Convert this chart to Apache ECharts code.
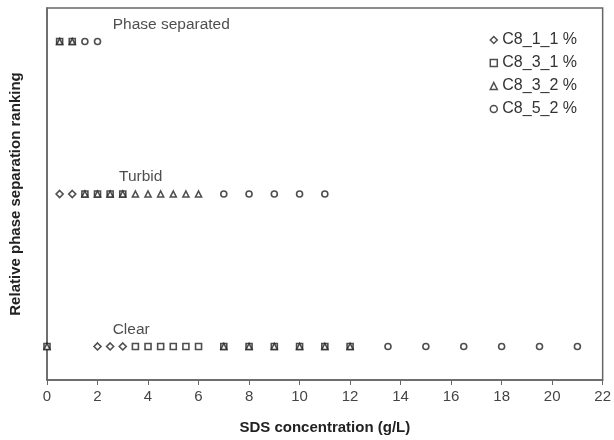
<!DOCTYPE html>
<html>
<head>
<meta charset="utf-8">
<script src="https://cdn.jsdelivr.net/npm/echarts@6/dist/echarts.min.js"></script>
<style>
  html, body { margin: 0; padding: 0; background: #fff; }
  #chart { width: 614px; height: 440px; }
</style>
</head>
<body>
<div id="chart"></div>
<script>
// Ranking levels on the vertical axis
const rankLabels = ['Clear', 'Turbid', 'Phase separated'];
const rankValues = [1, 2, 3];

// x tick labels (SDS concentration, g/L)
const xTicks = [0, 2, 4, 6, 8, 10, 12, 14, 16, 18, 20, 22];

// C8_1_1 %
const c811Sds = [0.5, 1.0, 2.0, 2.5, 3.0];
const c811Rank = [2, 2, 1, 1, 1];

// C8_3_1 %
const c831Sds = [0.5, 1.0, 1.5, 2.0, 2.5, 3.0, 0, 3.5, 4.0, 4.5, 5.0, 5.5, 6.0, 7, 8, 9, 10, 11, 12];
const c831Rank = [3, 3, 2, 2, 2, 2, 1, 1, 1, 1, 1, 1, 1, 1, 1, 1, 1, 1, 1];

// C8_3_2 %
const c832Sds = [0.5, 1.0, 1.5, 2.0, 2.5, 3.0, 3.5, 4.0, 4.5, 5.0, 5.5, 6.0, 0, 7, 8, 9, 10, 11, 12];
const c832Rank = [3, 3, 2, 2, 2, 2, 2, 2, 2, 2, 2, 2, 1, 1, 1, 1, 1, 1, 1];

// C8_5_2 %
const c852Sds = [1.5, 2.0, 7, 8, 9, 10, 11, 13.5, 15, 16.5, 18, 19.5, 21];
const c852Rank = [3, 3, 2, 2, 2, 2, 2, 1, 1, 1, 1, 1, 1];

const seriesNames = ['C8_1_1 %', 'C8_3_1 %', 'C8_3_2 %', 'C8_5_2 %'];

const ink = '#222';
const font = 'Liberation Sans, Arial, sans-serif';

function pairs(xs, ys) { return xs.map((x, i) => [x, ys[i]]); }

function scatter(name, xs, ys, symbol, size) {
  return {
    name: name,
    type: 'scatter',
    symbol: symbol,
    symbolSize: size,
    data: pairs(xs, ys),
    itemStyle: { color: '#fff', borderColor: ink, borderWidth: 1.6 },
    emphasis: { disabled: true },
    z: 3
  };
}

const chart = echarts.init(document.getElementById('chart'), null, { renderer: 'canvas' });

chart.setOption({
  animation: false,
  backgroundColor: '#fff',
  grid: {
    left: 44, right: 11, top: 8, bottom: 59,
    show: true, borderColor: '#666', borderWidth: 1.5, backgroundColor: 'transparent'
  },
  legend: {
    orient: 'vertical',
    right: 32, top: 27,
    itemWidth: 7, itemHeight: 7, itemGap: 7,
    data: seriesNames.map((n, i) => ({
      name: n,
      icon: ['diamond', 'rect', 'triangle', 'circle'][i],
      itemStyle: { color: '#fff', borderColor: ink, borderWidth: 1.5 }
    })),
    textStyle: { fontFamily: font, fontSize: 16, color: '#333', padding: [0, 0, 0, 0] }
  },
  xAxis: {
    type: 'value',
    min: 0, max: 22, interval: 2,
    name: 'SDS concentration (g/L)',
    nameLocation: 'middle', nameGap: 40,
    nameTextStyle: { fontFamily: font, fontSize: 15, fontWeight: 'bold', color: '#222' },
    axisLine: { show: true, onZero: false, lineStyle: { color: '#666', width: 1.5 } },
    axisTick: { show: true, inside: false, length: 5, lineStyle: { color: '#666' } },
    axisLabel: {
      fontFamily: font, fontSize: 15, color: '#444', margin: 9,
      formatter: v => (xTicks.indexOf(v) >= 0 ? String(v) : '')
    },
    splitLine: { show: false }
  },
  yAxis: {
    type: 'value',
    min: 0.78, max: 3.22,
    name: 'Relative phase separation ranking',
    nameLocation: 'middle', nameGap: 24,
    nameTextStyle: { fontFamily: font, fontSize: 15, fontWeight: 'bold', color: '#222' },
    axisLine: { show: true, onZero: false, lineStyle: { color: '#666', width: 1.5 } },
    axisTick: { show: false },
    axisLabel: { show: false },
    splitLine: { show: false }
  },
  series: [
    scatter(seriesNames[0], c811Sds, c811Rank, 'diamond', 7),
    scatter(seriesNames[1], c831Sds, c831Rank, 'rect', 6),
    scatter(seriesNames[2], c832Sds, c832Rank, 'triangle', 6),
    scatter(seriesNames[3], c852Sds, c852Rank, 'circle', 6),
    {
      // row captions for each ranking level
      type: 'scatter',
      symbolSize: 0,
      silent: true,
      data: rankValues.map((r, i) => ({
        value: [[2.6, 2.85, 2.6][i], r],
        label: {
          show: true,
          formatter: rankLabels[i],
          position: 'right',
          offset: [-5, -17],
          fontFamily: font, fontSize: 15.5, color: '#222'
        }
      })),
      z: 2
    }
  ]
});
</script>
</body>
</html>
